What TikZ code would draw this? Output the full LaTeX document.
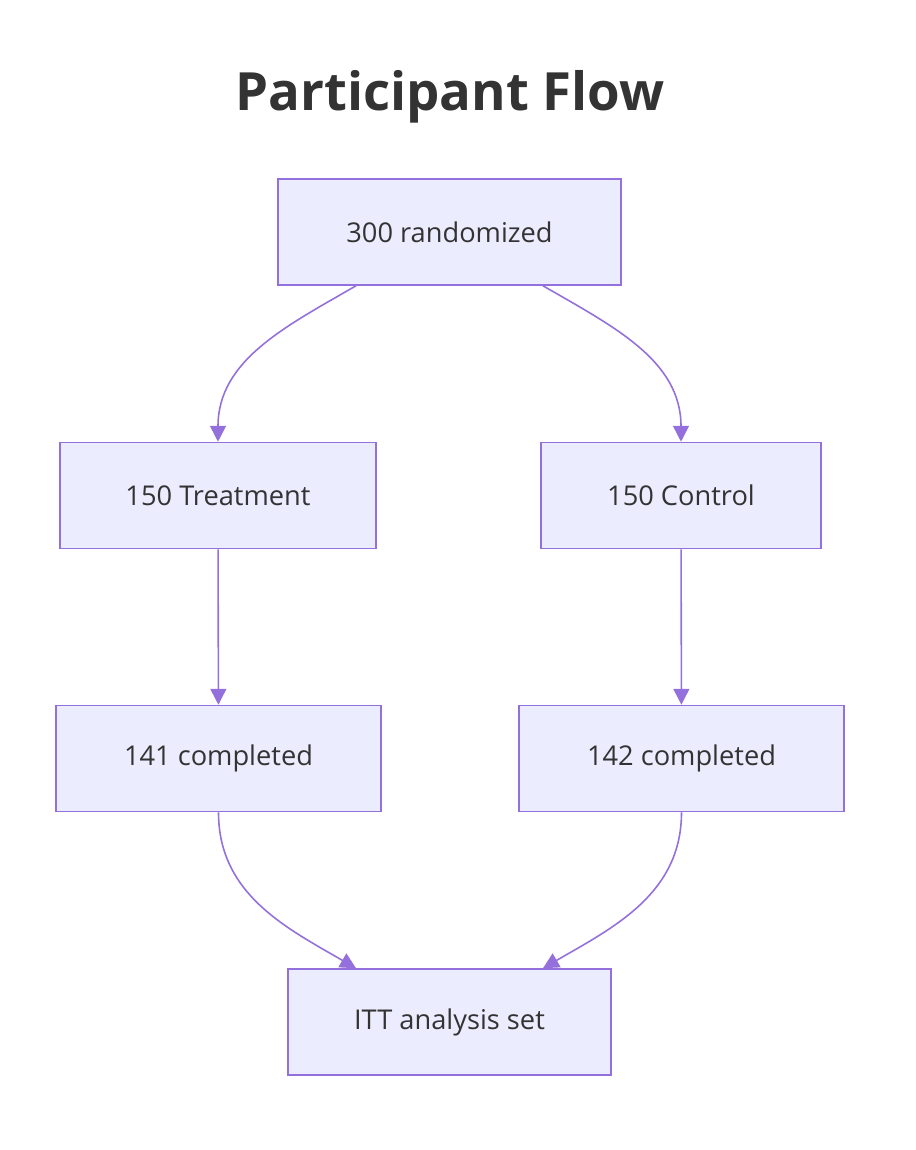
\documentclass[tikz,border=0pt]{standalone}
\usepackage{fontspec}
\setmainfont{Open Sans}
\usetikzlibrary{arrows.meta}
\definecolor{boxfill}{HTML}{ECECFF}
\definecolor{boxline}{HTML}{9370DB}
\definecolor{txt}{HTML}{333333}
\tikzset{
box/.style={draw=boxline, fill=boxfill, line width=0.9pt, minimum height=2.12cm, text=txt, font=\fontsize{15.5}{18}\selectfont},
flow/.style={draw=boxline, line width=0.9pt, -{Triangle[length=9pt,width=9pt]}},
}
\begin{document}
\begin{tikzpicture}[x=0.02cm,y=-0.02cm]
\useasboundingbox (0,0) rectangle (916,1150);
\node[text=txt, font=\bfseries\fontsize{30}{36}\selectfont] (title) at (450,97) {Participant Flow};
\node[box, minimum width=6.86cm] (rand) at (449.5,232) {300 randomized};
\node[box, minimum width=6.32cm] (treat) at (218,495.5) {150 Treatment};
\node[box, minimum width=5.6cm] (ctrl) at (681,495.5) {150 Control};
\node[box, minimum width=6.5cm] (tdone) at (218.5,758.5) {141 completed};
\node[box, minimum width=6.5cm] (cdone) at (681.5,758.5) {142 completed};
\node[box, minimum width=6.46cm] (itt) at (449.5,1022) {ITT analysis set};
% edges
\draw[flow] ([xshift=-1.87cm]rand.south) to[out=-150, in=90] (treat.north);
\draw[flow] ([xshift=1.87cm]rand.south) to[out=-30, in=90] (ctrl.north);
\draw[flow] (treat) -- (tdone);
\draw[flow] (ctrl) -- (cdone);
\draw[flow] (tdone.south) to[out=-90, in=150] ([xshift=-1.87cm]itt.north);
\draw[flow] (cdone.south) to[out=-90, in=30] ([xshift=1.87cm]itt.north);
\end{tikzpicture}
\end{document}
